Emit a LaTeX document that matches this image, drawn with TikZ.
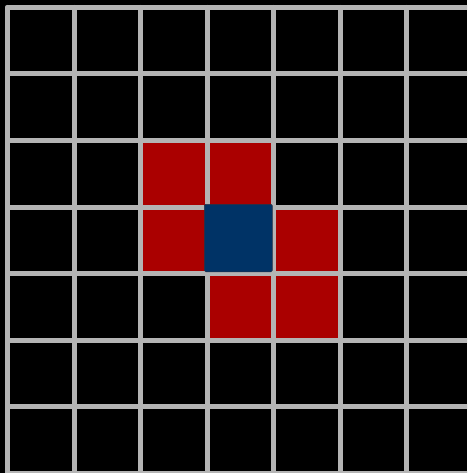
\documentclass[tikz,border=0pt]{standalone}
\usepackage{xcolor}
\usepackage{tikz}
\definecolor{gridgray}{RGB}{180,180,180}
\definecolor{hitred}{RGB}{170,0,0}
\definecolor{centerblue}{RGB}{0,51,102}
\definecolor{centeredge}{RGB}{40,50,70}

\begin{document}
\begin{tikzpicture}[
    x=1pt, y=-1pt,
    gridline/.style={draw=gridgray, line width=5pt, line cap=round},
    hitcell/.style={fill=hitred},
    centercell/.style={fill=centerblue, draw=centeredge, line width=0.6pt, rounded corners=1.5pt}
]

% Canvas
\clip (0,0) rectangle (467,473);
\fill[black] (0,0) rectangle (467,473);

% Neighbour cells
\foreach \c/\r in {2/2,3/2,2/3,4/3,3/4,4/4} {
    \fill[hitcell] (7.5+66.5*\c, 7.5+66.5*\r) rectangle (7.5+66.5*\c+66.5, 7.5+66.5*\r+66.5);
}

% Grid lines
\foreach \i in {0,1,...,7} {
    \draw[gridline] (7.5+66.5*\i, 7.5) -- (7.5+66.5*\i, 490);
    \draw[gridline] (7.5, 7.5+66.5*\i) -- (490, 7.5+66.5*\i);
}

% Centre cell
\filldraw[centercell] (204.3,204.3) rectangle (272.4,271.8);

\end{tikzpicture}
\end{document}
